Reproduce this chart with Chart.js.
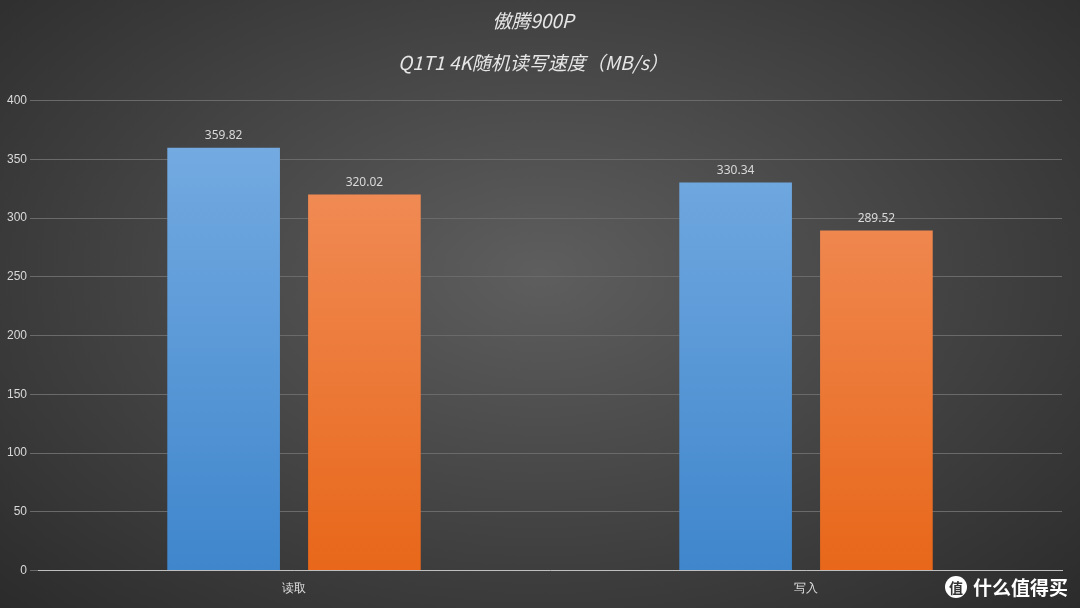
<!DOCTYPE html>
<html><head><meta charset="utf-8">
<script src="https://cdn.jsdelivr.net/npm/chart.js@4/dist/chart.umd.min.js"></script>
<style>
html,body{margin:0;padding:0;}
body{width:1080px;height:608px;background:radial-gradient(ellipse at 50% 45%,#5e5e5e 0%,#474747 45%,#2b2b2b 100%);position:relative;overflow:hidden;font-family:"Noto Sans CJK SC","Noto Sans",sans-serif;}
#wrap{position:absolute;left:0;top:0;width:1080px;height:608px;}
#wm{position:absolute;right:12px;bottom:8px;color:#fff;font-size:19px;font-weight:bold;display:flex;align-items:center;gap:6px;}
#wm span.c{display:inline-block;width:22px;height:22px;border-radius:50%;background:#fff;color:#333;font-size:14px;text-align:center;line-height:22px;}
</style></head><body>
<div id="wrap"><canvas id="c" width="1080" height="608"></canvas></div>
<div id="wm"><span class="c">值</span>什么值得买</div>
<script>
const categories=["读取","写入"];
const seriesA=[359.82,330.34];
const seriesB=[320.02,289.52];
const titleLines=["傲腾900P","Q1T1 4K随机读写速度（MB/s）"];

function grad(ctx,top,bot){
  const ca=ctx.chart.chartArea; if(!ca) return top;
  const g=ctx.chart.ctx.createLinearGradient(0,ca.top,0,ca.bottom);
  g.addColorStop(0,top); g.addColorStop(1,bot); return g;
}
const labelPlugin={id:'lbl',afterDatasetsDraw(chart){
  const c=chart.ctx; c.save(); c.fillStyle='#d9d9d9'; c.font='12px "Noto Sans", sans-serif'; c.textAlign='center'; c.textBaseline='bottom';
  chart.data.datasets.forEach((ds,i)=>{chart.getDatasetMeta(i).data.forEach((b,j)=>{c.fillText(ds.data[j].toFixed(2),b.x,b.y-6);});});
  c.restore();}};
new Chart(document.getElementById('c'),{
  type:'bar',
  data:{labels:categories,datasets:[
    {data:seriesA,backgroundColor:ctx=>grad(ctx,'#79aee3','#3f86cc')},
    {data:seriesB,backgroundColor:ctx=>grad(ctx,'#f29362','#e8671a')}
  ]},
  options:{responsive:false,animation:false,
    layout:{padding:{left:4,right:18,top:0,bottom:9}},
    datasets:{bar:{categoryPercentage:0.55,barPercentage:0.8}},
    plugins:{legend:{display:false},tooltip:{enabled:false},
      title:{display:true,text:titleLines,color:'#e6e6e6',font:{size:19,style:'italic',weight:'normal',family:'"Noto Sans CJK SC", sans-serif',lineHeight:2.2},padding:{top:0,bottom:17}}},
    scales:{
      x:{grid:{display:false},border:{color:'#bfbfbf'},ticks:{color:'#e0e0e0',font:{size:12}}},
      y:{min:0,max:400,ticks:{stepSize:50,color:'#d9d9d9',font:{size:12}},grid:{color:'#6a6a6a'},border:{display:false}}
    }},
  plugins:[labelPlugin]
});
</script></body></html>
